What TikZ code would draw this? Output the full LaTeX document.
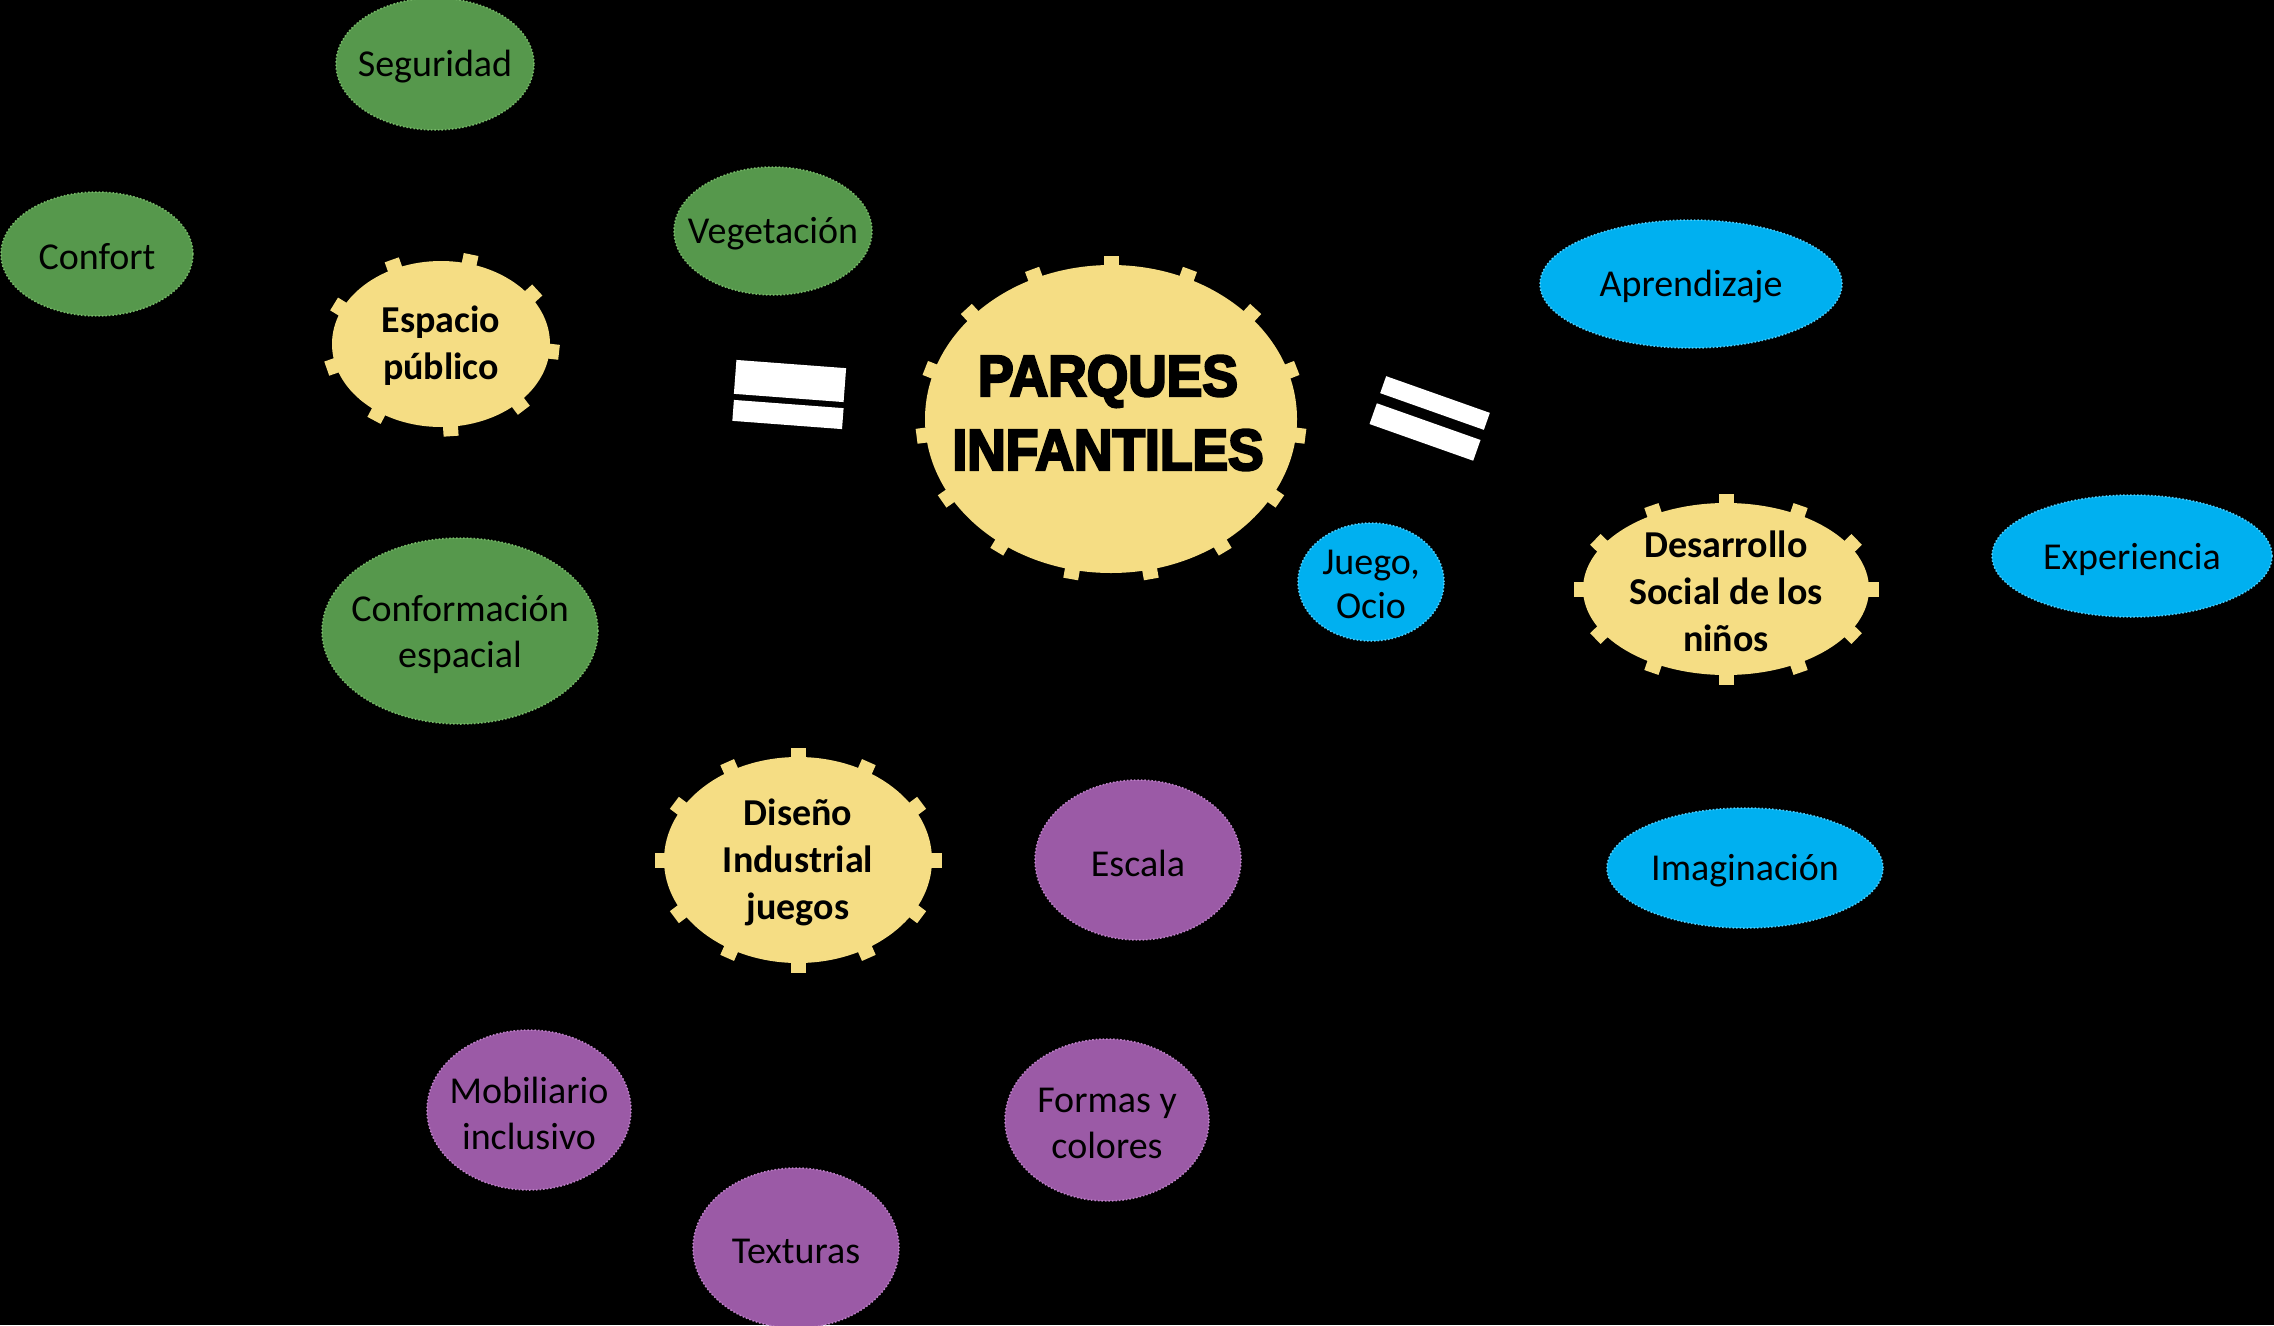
\documentclass[tikz,border=0pt]{standalone}
\usepackage{fontspec}
\setmainfont{Carlito}
\newfontfamily\titlefont[BoldFeatures={FakeBold=4,FakeStretch=0.92}]{Liberation Sans}
\usetikzlibrary{shapes.geometric}
\definecolor{greenF}{RGB}{86,152,76}
\definecolor{greenD}{RGB}{120,185,105}
\definecolor{purpF}{RGB}{155,90,166}
\definecolor{purpD}{RGB}{190,130,200}
\definecolor{blueF}{RGB}{0,176,240}
\definecolor{blueD}{RGB}{80,205,250}
\definecolor{yelF}{RGB}{245,221,132}
\tikzset{
  base/.style={ellipse, inner sep=0pt, align=center, text=black,
    font=\fontsize{38}{46}\selectfont},
  lab/.style={label={[align=center, text=black, yshift=-3pt, font=\fontsize{38}{46}\selectfont]center:#1}},
  greenc/.style={base, fill=greenF, draw=greenD, dotted, line width=1.5pt},
  purpc/.style={base, fill=purpF, draw=purpD, dotted, line width=1.5pt},
  bluec/.style={base, fill=blueF, draw=blueD, dotted, line width=1.5pt},
  gearc/.style={base, fill=yelF},
  glab/.style={label={[align=center, text=black, yshift=-2pt, font=\fontsize{38}{47}\selectfont\bfseries]center:#1}},
  eqbar/.style={fill=white},
}
\newcommand\gearteeth[6]{%
  \foreach \k in {1,...,#5}{%
    \pgfmathsetmacro\gt{#6+360/#5*(\k-1)}%
    \pgfmathsetmacro\gx{#1+#3*cos(\gt)}%
    \pgfmathsetmacro\gy{#2-#4*sin(\gt)}%
    \pgfmathsetmacro\ga{atan2(#3*sin(\gt),#4*cos(\gt))}%
    \fill[yelF, shift={(\gx,\gy)}, rotate=\ga] (-12,-7.5) rectangle (9.5,7.5);
  }%
}
\begin{document}
\begin{tikzpicture}[x=1pt,y=-1pt]
\fill[black] (0,0) rectangle (2274,1325);
\useasboundingbox (0,0) rectangle (2274,1325);

% green
\node[greenc, minimum width=198, minimum height=132, lab={Seguridad}] (seg) at (435,64) {};
\node[greenc, minimum width=192, minimum height=124, lab={Confort}] (conf) at (97,254) {};
\node[greenc, minimum width=198, minimum height=128, lab={Vegetación}] (veg) at (773,231) {};
\node[greenc, minimum width=276, minimum height=186, lab={Conformación\\espacial}] (cesp) at (460,631) {};

% purple
\node[purpc, minimum width=206, minimum height=160, lab={Escala}] (esc) at (1138,860) {};
\node[purpc, minimum width=204, minimum height=160, lab={Mobiliario\\inclusivo}] (mob) at (529,1110) {};
\node[purpc, minimum width=204, minimum height=162, lab={Formas y\\colores}] (for) at (1107,1120) {};
\node[purpc, minimum width=206, minimum height=160, lab={Texturas}] (tex) at (796,1248) {};

% blue
\node[bluec, minimum width=146, minimum height=118,
  label={[align=center, text=black, yshift=-2pt, font=\fontsize{38}{44}\selectfont]center:Juego,\\Ocio}] (jue) at (1371,582) {};
\node[bluec, minimum width=302, minimum height=128, lab={Aprendizaje}] (apr) at (1691,284) {};
\node[bluec, minimum width=280, minimum height=122, lab={Experiencia}] (exp) at (2132,556) {};
\node[bluec, minimum width=276, minimum height=120, lab={Imaginación}] (ima) at (1745,868) {};

% gears
\gearteeth{441}{344}{109}{83}{9}{35}
\node[gearc, minimum width=218, minimum height=166, glab={Espacio\\público}] (esp) at (441,344) {};

\gearteeth{1111}{419}{186}{154}{15}{90}
\node[gearc, minimum width=372, minimum height=308] (par) at (1111,419) {};
\node[inner sep=0pt, align=center, text=black, font=\fontsize{58}{74}\selectfont\titlefont\bfseries] (partxt) at (1108,413) {PARQUES\\INFANTILES};

\gearteeth{1726}{589}{143}{86}{12}{90}
\node[gearc, minimum width=286, minimum height=172, glab={Desarrollo\\Social de los\\niños}] (des) at (1726,589) {};

\gearteeth{798}{860}{134}{103}{12}{90}
\node[gearc, minimum width=268, minimum height=206, glab={Diseño\\Industrial\\juegos}] (dis) at (798,860) {};

% equal signs
\fill[eqbar, rotate around={-4.3:(790,381)}] (735,364) rectangle (845,398);
\fill[eqbar, rotate around={-4.3:(788,414)}] (733,404) rectangle (843,425);
\fill[eqbar, rotate around={-19.5:(1435,403)}] (1380,394) rectangle (1490,412);
\fill[eqbar, rotate around={-19.5:(1425,432)}] (1370,421) rectangle (1480,443);
\end{tikzpicture}
\end{document}
